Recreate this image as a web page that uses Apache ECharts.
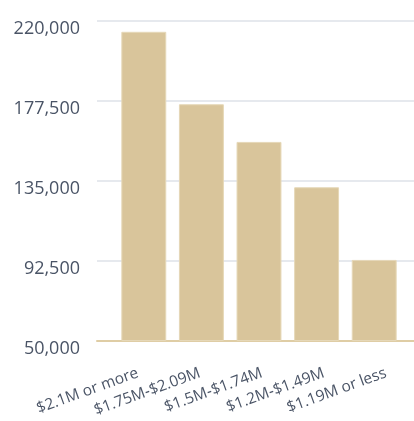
<!DOCTYPE html>
<html>
<head>
<meta charset="utf-8">
<script src="https://cdn.jsdelivr.net/npm/echarts@6/dist/echarts.min.js"></script>
<style>
  html, body { margin: 0; padding: 0; background: #ffffff; }
  #chart { width: 414px; height: 421px; }
</style>
</head>
<body>
<div id="chart"></div>
<script>
// Price bands and their counts
const categories = ['$2.1M or more', '$1.75M-$2.09M', '$1.5M-$1.74M', '$1.2M-$1.49M', '$1.19M or less'];
const values = [214000, 175500, 155500, 131400, 92800];
const yMin = 50000;
const yMax = 220000;
const yStep = 42500;

const labelColor = '#4a5466';
const fontFamily = '"Open Sans", "Noto Sans", sans-serif';

const chart = echarts.init(document.getElementById('chart'), null, { renderer: 'canvas' });

const hiddenValueAxis = (gridIndex) => ({
  gridIndex,
  type: 'value',
  min: yMin,
  max: yMax,
  interval: yStep,
  axisLine: { show: false },
  axisTick: { show: false },
  axisLabel: { show: false },
  splitLine: { show: false }
});

chart.setOption({
  animation: false,
  grid: [
    // wide grid: value labels, gridlines and the baseline
    { left: 97, right: 0, top: 20.5, bottom: 80.5, outerBoundsMode: 'none' },
    // inner grid: the bars
    { left: 115, right: 11, top: 20.5, bottom: 80.5, outerBoundsMode: 'none' },
    // category label band, spaced a little wider than the bars
    { left: 112.5, right: -8.5, top: 20.5, bottom: 80.5, outerBoundsMode: 'none' }
  ],
  xAxis: [
    {
      gridIndex: 0,
      type: 'value',
      min: 0,
      max: 1,
      axisLine: { show: true, onZero: false, lineStyle: { color: '#dfcda5', width: 2 } },
      axisTick: { show: false },
      axisLabel: { show: false },
      splitLine: { show: false }
    },
    {
      gridIndex: 1,
      type: 'category',
      data: categories,
      axisLine: { show: false },
      axisTick: { show: false },
      axisLabel: { show: false }
    },
    {
      gridIndex: 2,
      type: 'category',
      data: categories,
      axisLine: { show: false },
      axisTick: { show: false },
      axisLabel: {
        interval: 0,
        rotate: 20,
        margin: 30,
        color: labelColor,
        fontSize: 15.5,
        fontFamily: fontFamily,
        padding: [0, 6, 0, 0]
      }
    }
  ],
  yAxis: [
    {
      gridIndex: 0,
      type: 'value',
      min: yMin,
      max: yMax,
      interval: yStep,
      axisLine: { show: false },
      axisTick: { show: false },
      axisLabel: {
        margin: 17,
        color: labelColor,
        fontSize: 18,
        fontFamily: fontFamily,
        verticalAlign: 'top',
        padding: [-1, 0, 0, 0],
        formatter: v => v.toLocaleString('en-US')
      },
      splitLine: { show: true, lineStyle: { color: '#e6e9ee', width: 2 } }
    },
    hiddenValueAxis(1),
    hiddenValueAxis(2)
  ],
  series: [
    {
      type: 'bar',
      xAxisIndex: 1,
      yAxisIndex: 1,
      data: values,
      barCategoryGap: '22%',
      z: 1,
      itemStyle: {
        color: '#d9c59b',
        borderColor: '#e6d8b8',
        borderWidth: 1
      }
    }
  ]
});
</script>
</body>
</html>
